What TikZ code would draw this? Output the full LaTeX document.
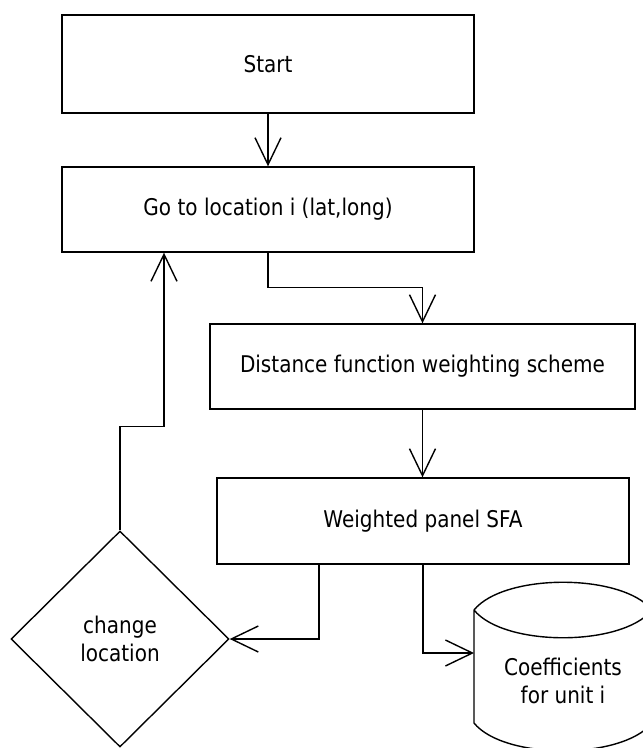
\documentclass[tikz,border=0pt]{standalone}
\usepackage{fontspec}
\setmainfont{DejaVu Sans}[FakeStretch=0.87]
\usetikzlibrary{shapes.geometric,arrows.meta}
\begin{document}
\begin{tikzpicture}[x=1pt,y=-1pt,line width=1.4pt,
  txt/.style={font=\fontsize{23}{28.5}\selectfont,align=center},
  box/.style={txt,draw,rectangle,inner sep=0pt},
  dec/.style={txt,draw,diamond,inner sep=0pt,minimum width=218pt,minimum height=216pt},
  arr/.style={-{Straight Barb[length=27pt,width=26pt]}}]
\useasboundingbox (0,0) rectangle (643,748);
\node[box,minimum width=412pt,minimum height=98pt] (start) at (268,64) {Start};
\node[box,minimum width=412pt,minimum height=85pt] (go) at (268,209.5) {Go to location i (lat,long)};
\node[box,minimum width=425pt,minimum height=85pt] (dist) at (422.5,366.5) {Distance function weighting scheme};
\node[box,minimum width=412pt,minimum height=86pt] (wp) at (423,521) {Weighted panel SFA};
\node[dec] (dia) at (120,639) {change\\location};
% cylinder (data store)
\draw (474,610) .. controls (504,573) and (622,573) .. (652,610)
      (474,610) .. controls (504,647) and (622,647) .. (652,610)
      (474,610) -- (474,723) .. controls (504,760) and (622,760) .. (652,723) -- (652,610);
\node[txt] (coef) at (563,681) {Coefficients\\for unit i};
\coordinate (cylin) at (474,653);
% connectors
\draw[arr] (start.south) -- (go.north);
\draw[arr] (go.south) -- ++(0,35) -| (dist.north);
\draw[arr] (dist.south) -- (dist.south |- wp.north);
\draw[arr] ([xshift=-104pt]wp.south) |- (dia.east);
\draw[arr] (wp.south) |- (cylin);
\draw[arr] (dia.north) -- ++(0,-104) -| ([xshift=-104pt]go.south);
\end{tikzpicture}
\end{document}
